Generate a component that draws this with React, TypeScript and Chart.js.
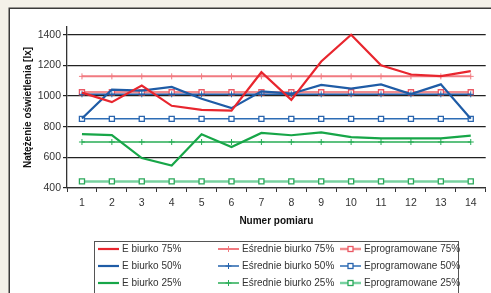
import { useEffect, useRef } from 'react';
import { Chart, registerables } from 'chart.js';

Chart.register(...registerables);

const categories = ['1', '2', '3', '4', '5', '6', '7', '8', '9', '10', '11', '12', '13', '14'];

const eBiurko75 = [1022, 960, 1068, 936, 910, 905, 1155, 975, 1225, 1400, 1200, 1140, 1130, 1162];
const eBiurko50 = [853, 1041, 1035, 1059, 982, 921, 1030, 1015, 1072, 1048, 1076, 1013, 1076, 852];
const eBiurko25 = [752, 745, 595, 547, 750, 667, 759, 744, 763, 732, 724, 724, 724, 741];
const eSrednie75 = [1128, 1128, 1128, 1128, 1128, 1128, 1128, 1128, 1128, 1128, 1128, 1128, 1128, 1128];
const eSrednie50 = [1011, 1011, 1011, 1011, 1011, 1011, 1011, 1011, 1011, 1011, 1011, 1011, 1011, 1011];
const eSrednie25 = [700, 700, 700, 700, 700, 700, 700, 700, 700, 700, 700, 700, 700, 700];
const eProg75 = [1024, 1024, 1024, 1024, 1024, 1024, 1024, 1024, 1024, 1024, 1024, 1024, 1024, 1024];
const eProg50 = [851, 851, 851, 851, 851, 851, 851, 851, 851, 851, 851, 851, 851, 851];
const eProg25 = [443, 443, 443, 443, 443, 443, 443, 443, 443, 443, 443, 443, 443, 443];

const yTicks = [400, 600, 800, 1000, 1200, 1400];

const FONT = '"Liberation Sans", Arial, sans-serif';

const bgPlugin = {
  id: 'bgPanel',
  beforeDraw(chart: any) {
    const { ctx, width, height } = chart;
    ctx.save();
    ctx.fillStyle = '#f4f1e9';
    ctx.fillRect(0, 0, width, height);
    ctx.fillStyle = '#ffffff';
    ctx.fillRect(9, 8, width, height);
    ctx.strokeStyle = '#3a3a3a';
    ctx.lineWidth = 1.5;
    ctx.strokeRect(9.25, 8.25, width + 20, height + 20);
    ctx.restore();
  },
};

const legendPlugin = {
  id: 'customLegend',
  afterDraw(chart: any) {
    const { ctx } = chart;
    const datasets = chart.data.datasets;
    const colX = [98, 218, 340];
    const rowY = [249, 266, 283];
    ctx.save();
    ctx.strokeStyle = '#555';
    ctx.lineWidth = 1;
    ctx.fillStyle = '#fff';
    ctx.fillRect(94.5, 241.5, 364, 80);
    ctx.strokeRect(94.5, 241.5, 364, 80);
    ctx.font = `10px ${FONT}`;
    ctx.textBaseline = 'middle';
    ctx.textAlign = 'left';
    datasets.forEach((ds: any, i: number) => {
      const col = Math.floor(i / 3);
      const row = i % 3;
      const x = colX[col];
      const y = rowY[row];
      ctx.strokeStyle = ds.borderColor;
      ctx.lineWidth = ds.borderWidth;
      ctx.beginPath();
      ctx.moveTo(x, y);
      ctx.lineTo(x + 21, y);
      ctx.stroke();
      const cx = x + 10.5;
      if (ds.pointStyle === 'cross') {
        ctx.strokeStyle = ds.pointBorderColor;
        ctx.lineWidth = 1;
        ctx.beginPath();
        ctx.moveTo(cx - 3, y);
        ctx.lineTo(cx + 3, y);
        ctx.moveTo(cx, y - 3);
        ctx.lineTo(cx, y + 3);
        ctx.stroke();
      } else if (ds.pointStyle === 'rect') {
        ctx.fillStyle = '#fff';
        ctx.fillRect(cx - 2.5, y - 2.5, 5, 5);
        ctx.strokeStyle = ds.pointBorderColor;
        ctx.lineWidth = 1.3;
        ctx.strokeRect(cx - 2.5, y - 2.5, 5, 5);
      }
      ctx.fillStyle = '#333';
      ctx.fillText(ds.label, x + 24, y + 0.5);
    });
    ctx.restore();
  },
};

function lineDs(label: string, data: number[], color: string, width: number) {
  return {
    label,
    data,
    borderColor: color,
    backgroundColor: color,
    borderWidth: width,
    pointRadius: 0,
    pointStyle: 'circle',
    tension: 0,
  };
}

function crossDs(label: string, data: number[], color: string, width: number) {
  return {
    label,
    data,
    borderColor: color,
    backgroundColor: color,
    borderWidth: width,
    pointStyle: 'cross',
    pointRadius: 3,
    pointBorderWidth: 1,
    pointBorderColor: color,
    tension: 0,
  };
}

function rectDs(label: string, data: number[], color: string, width: number, marker: string) {
  return {
    label,
    data,
    borderColor: color,
    backgroundColor: '#fff',
    borderWidth: width,
    pointStyle: 'rect',
    pointRadius: 3.6,
    pointBorderWidth: 1.3,
    pointBorderColor: marker,
    pointBackgroundColor: '#fff',
    tension: 0,
  };
}

export default function App() {
  const ref = useRef<HTMLCanvasElement>(null);

  useEffect(() => {
    document.body.style.margin = '0';
    const canvas = ref.current;
    if (!canvas) return;
    const chart = new Chart(canvas, {
      type: 'line',
      data: {
        labels: categories,
        datasets: [
          lineDs('E biurko 75%', eBiurko75, '#e8262e', 2.2),
          lineDs('E biurko 50%', eBiurko50, '#1f5ca6', 2.2),
          lineDs('E biurko 25%', eBiurko25, '#17a648', 2.2),
          crossDs('Eśrednie biurko 75%', eSrednie75, '#f17a80', 2),
          crossDs('Eśrednie biurko 50%', eSrednie50, '#2563ad', 1.5),
          crossDs('Eśrednie biurko 25%', eSrednie25, '#27ad55', 1.5),
          rectDs('Eprogramowane 75%', eProg75, '#f28c8e', 2.5, '#ea5864'),
          rectDs('Eprogramowane 50%', eProg50, '#2d6db5', 1.5, '#2a65ae'),
          rectDs('Eprogramowane 25%', eProg25, '#78d2a0', 2.5, '#2aa85a'),
        ] as any,
      },
      options: {
        responsive: false,
        animation: false,
        layout: { padding: { left: 14, top: 27, right: 5, bottom: 65 } },
        plugins: {
          legend: { display: false },
          tooltip: { enabled: false },
        },
        scales: {
          x: {
            type: 'category',
            offset: true,
            grid: {
              offset: true,
              drawOnChartArea: false,
              drawTicks: true,
              tickLength: 4,
              color: '#333',
              lineWidth: 1,
            },
            border: { color: '#333', width: 1.3 },
            ticks: {
              font: { size: 10.5, family: FONT },
              color: '#333',
              padding: 5,
              maxRotation: 0,
              autoSkip: false,
            },
            title: {
              display: true,
              text: 'Numer pomiaru',
              font: { size: 10, weight: 'bold', family: FONT },
              color: '#111',
              padding: { top: 0, bottom: 1 },
            },
            afterFit: (s: any) => {
              s.height = 40;
            },
          },
          y: {
            min: 400,
            max: 1450,
            ticks: {
              stepSize: 200,
              includeBounds: false,
              font: { size: 10.5, family: FONT },
              color: '#333',
              padding: 2,
              callback: (v: any) => String(v),
            },
            grid: { color: '#222', lineWidth: 1.2, tickLength: 4 },
            border: { color: '#333', width: 1.3 },
            title: {
              display: true,
              text: 'Natężenie oświetlenia [lx]',
              font: { size: 10, weight: 'bold', family: FONT },
              color: '#111',
              padding: { top: 8, bottom: 0 },
            },
            afterBuildTicks: (s: any) => {
              s.ticks = yTicks.map((v) => ({ value: v }));
            },
            afterFit: (s: any) => {
              s.width = 53;
            },
          },
        },
      } as any,
      plugins: [bgPlugin, legendPlugin],
    });
    return () => chart.destroy();
  }, []);

  return <canvas ref={ref} width={491} height={293} style={{ display: 'block', width: 491, height: 293 }} />;
}
